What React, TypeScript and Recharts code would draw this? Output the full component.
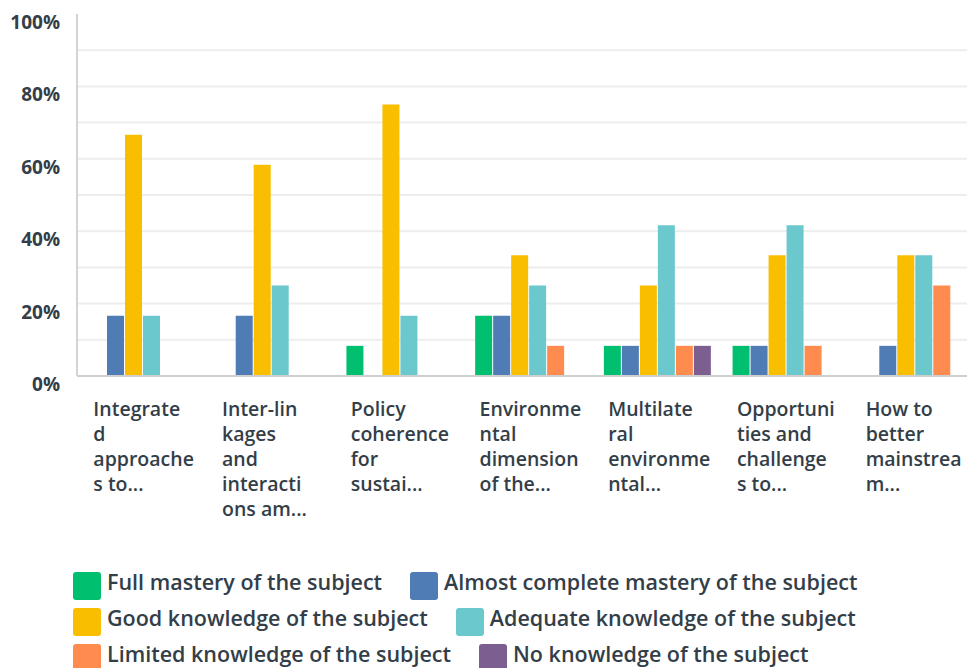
import { BarChart, Bar, XAxis, YAxis, CartesianGrid } from 'recharts';

const categoryLines = [
  ['Integrate', 'd', 'approache', 's to...'],
  ['Inter-lin', 'kages', 'and', 'interacti', 'ons am...'],
  ['Policy', 'coherence', 'for', 'sustai...'],
  ['Environme', 'ntal', 'dimension', 'of the...'],
  ['Multilate', 'ral', 'environme', 'ntal...'],
  ['Opportuni', 'ties and', 'challenge', 's to...'],
  ['How to', 'better', 'mainstrea', 'm...'],
];

const fullMastery = [0, 0, 8.33, 16.67, 8.33, 8.33, 0];
const almostComplete = [16.67, 16.67, 0, 16.67, 8.33, 8.33, 8.33];
const goodKnowledge = [66.67, 58.33, 75, 33.33, 25, 33.33, 33.33];
const adequateKnowledge = [16.67, 25, 16.67, 25, 41.67, 41.67, 33.33];
const limitedKnowledge = [0, 0, 0, 8.33, 8.33, 8.33, 25];
const noKnowledge = [0, 0, 0, 0, 8.33, 0, 0];

const yTicks = [0, 20, 40, 60, 80, 100];
const gridValues = [10, 20, 30, 40, 50, 60, 70, 80, 90];

const series = [
  { key: 'full', name: 'Full mastery of the subject', color: '#00bf6f', values: fullMastery },
  { key: 'almost', name: 'Almost complete mastery of the subject', color: '#507cb6', values: almostComplete },
  { key: 'good', name: 'Good knowledge of the subject', color: '#f9be00', values: goodKnowledge },
  { key: 'adequate', name: 'Adequate knowledge of the subject', color: '#6bc8cd', values: adequateKnowledge },
  { key: 'limited', name: 'Limited knowledge of the subject', color: '#ff8b4f', values: limitedKnowledge },
  { key: 'none', name: 'No knowledge of the subject', color: '#7d5e90', values: noKnowledge },
];

const data = categoryLines.map((lines, i) => {
  const row: Record<string, string | number> = { name: lines.join(' ') };
  series.forEach((s) => {
    row[s.key] = s.values[i];
  });
  return row;
});

const TEXT = '#333e48';
const FONT = '"Open Sans", sans-serif';

const YTick = ({ y, payload }: any) => (
  <text x={60} y={y + 15} textAnchor="end" fill={TEXT} fontSize={19} fontWeight={700} fontFamily={FONT}>
    {payload.value}%
  </text>
);

const XTick = ({ x, y, index }: any) => {
  const lines = categoryLines[index] || [];
  return (
    <text x={x - 48} y={y} fill={TEXT} fontSize={19.5} fontWeight={600} fontFamily={FONT}>
      {lines.map((l, i) => (
        <tspan key={i} x={x - 48} y={y + 32 + i * 25}>
          {l}
        </tspan>
      ))}
    </text>
  );
};

export default function App() {
  const rows = [series.slice(0, 2), series.slice(2, 4), series.slice(4, 6)];
  return (
    <div
      style={{
        position: 'fixed',
        top: 0,
        left: 0,
        width: 967,
        height: 668,
        overflow: 'hidden',
        background: '#fff',
      }}
    >
      <BarChart
        width={980}
        height={540}
        data={data}
        margin={{ top: 14, right: 2, bottom: 0, left: 0 }}
        barCategoryGap={12}
        barGap={1}
      >
        <CartesianGrid vertical={false} horizontalValues={gridValues} stroke="#ededed" strokeWidth={2} />
        <XAxis
          dataKey="name"
          interval={0}
          height={164}
          tickLine={false}
          axisLine={{ stroke: '#cfcfcf', strokeWidth: 2 }}
          tick={<XTick />}
        />
        <YAxis
          domain={[0, 100]}
          ticks={yTicks}
          width={77}
          tickLine={false}
          axisLine={{ stroke: '#d4d4d4', strokeWidth: 2 }}
          tick={<YTick />}
        />
        {series.map((s) => (
          <Bar key={s.key} dataKey={s.key} name={s.name} fill={s.color} isAnimationActive={false} />
        ))}
      </BarChart>
      <div style={{ position: 'absolute', top: 572, left: 73 }}>
        {rows.map((row, ri) => (
          <div key={ri} style={{ display: 'flex', alignItems: 'center', height: 28, marginBottom: 8 }}>
            {row.map((s) => (
              <div key={s.key} style={{ display: 'flex', alignItems: 'center', marginRight: 28 }}>
                <span
                  style={{
                    display: 'inline-block',
                    width: 28,
                    height: 28,
                    borderRadius: 3,
                    background: s.color,
                    marginRight: 6,
                  }}
                />
                <span
                  style={{
                    fontFamily: FONT,
                    fontSize: 21.5,
                    lineHeight: '22px',
                    fontWeight: 600,
                    color: TEXT,
                    whiteSpace: 'nowrap',
                    position: 'relative',
                    top: -4,
                  }}
                >
                  {s.name}
                </span>
              </div>
            ))}
          </div>
        ))}
      </div>
    </div>
  );
}
